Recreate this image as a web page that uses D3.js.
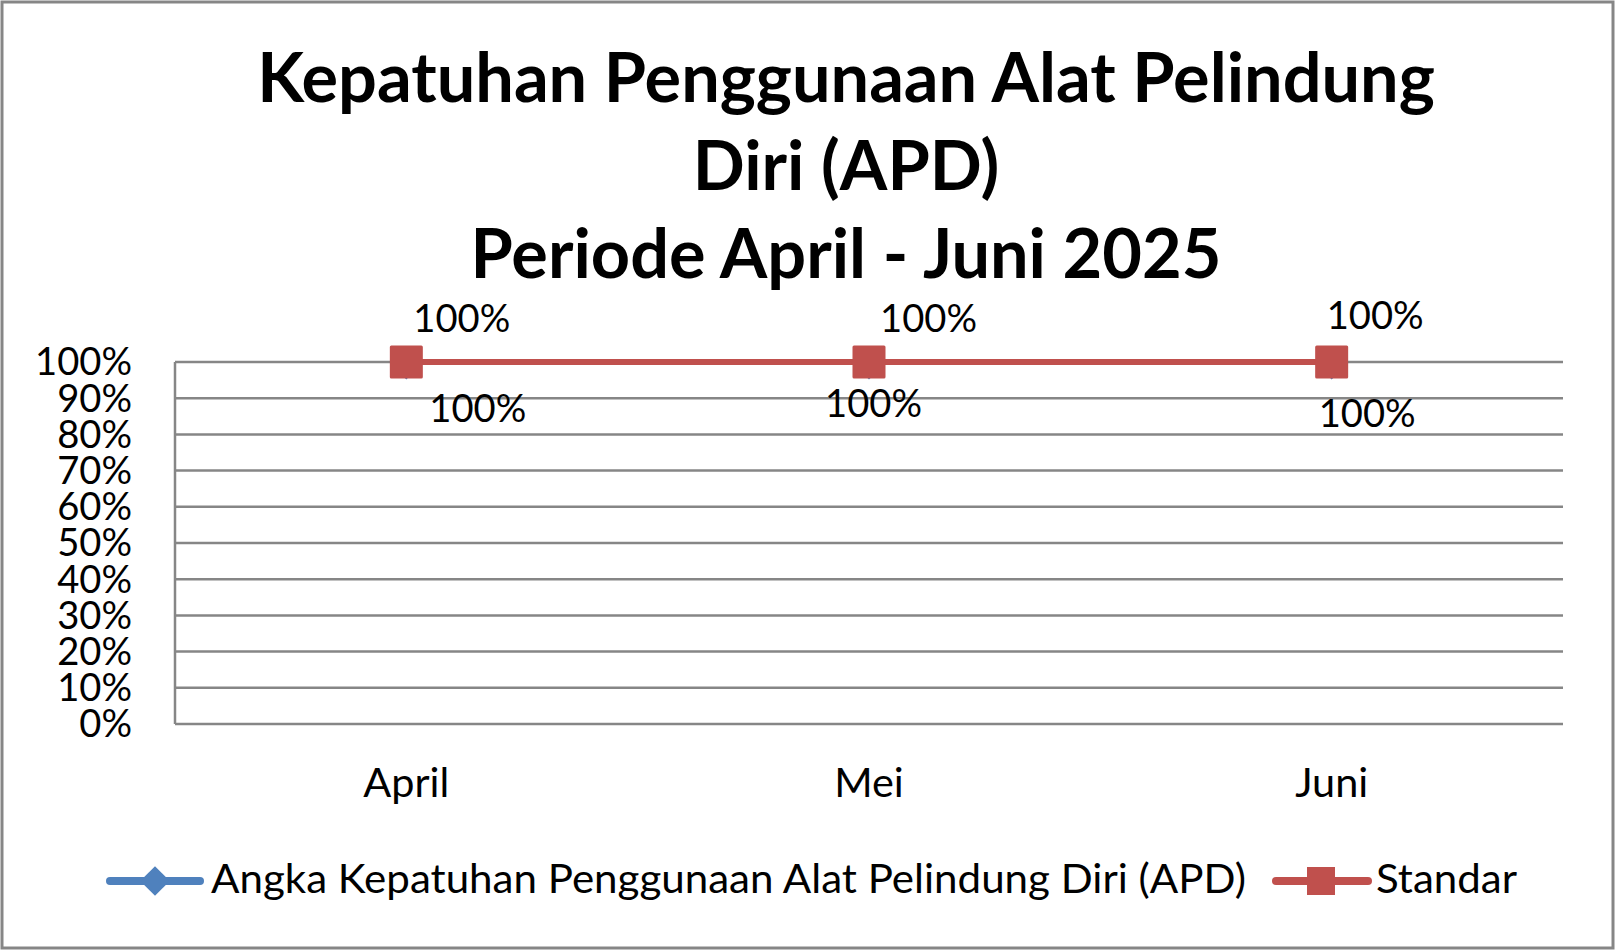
<!DOCTYPE html>
<html>
<head>
<meta charset="utf-8">
<script src="https://cdn.jsdelivr.net/npm/d3@7"></script>
<style>
  body { margin: 0; background: #fff; }
  text { font-family: Lato, "Open Sans", sans-serif; fill: #000; }
</style>
</head>
<body>
<svg width="1615" height="951"></svg>
<script>
// chart data
const months = ["April", "Mei", "Juni"];
const kepatuhan = [100, 100, 100];
const standar = [100, 100, 100];
const yTicks = [0, 10, 20, 30, 40, 50, 60, 70, 80, 90, 100];
const titleLines = ["Kepatuhan Penggunaan Alat Pelindung", "Diri (APD)", "Periode April - Juni 2025"];
const seriesNames = ["Angka Kepatuhan Penggunaan Alat Pelindung Diri (APD)", "Standar"];

// hand-placed label offsets (dx, dy from the point)
const upperOffsets = [[7, -30], [11, -30], [-5, -33]];
const lowerOffsets = [[23, 60], [-44, 55], [-13, 65]];

const svg = d3.select("svg"),
    margin = {top: 362, right: 52, bottom: 227, left: 175},
    width = +svg.attr("width") - margin.left - margin.right,
    height = +svg.attr("height") - margin.top - margin.bottom;

const blue = "#4F81BD", red = "#C0504D", grey = "#868686";

svg.append("rect")
    .attr("x", 2).attr("y", 2)
    .attr("width", 1611).attr("height", 946)
    .attr("fill", "#fff").attr("stroke", grey).attr("stroke-width", 3);

// fit a font size so a sample string gets a given width
function fitSize(str, weight, targetWidth) {
  const t = svg.append("text").attr("font-size", 100).attr("font-weight", weight).text(str);
  const w = t.node().getComputedTextLength();
  t.remove();
  return 100 * targetWidth / w;
}
const bodySize = fitSize("100%", "normal", 97);
const catSize = fitSize("April", "normal", 86);
const titleSize = fitSize(titleLines[0], "bold", 1178);

const title = svg.append("text")
    .attr("text-anchor", "middle")
    .attr("font-weight", "bold")
    .attr("font-size", titleSize);
titleLines.forEach(function(line, i) {
  title.append("tspan").attr("x", 846).attr("y", 102 + i * 88).text(line);
});

const g = svg.append("g").attr("transform", "translate(" + margin.left + "," + margin.top + ")");

const x = d3.scalePoint()
    .domain(months)
    .range([0, width])
    .padding(0.5);

const y = d3.scaleLinear()
    .domain([0, 100])
    .range([height, 0]);

// gridlines
g.append("g")
  .selectAll("line")
  .data(yTicks)
  .enter().append("line")
    .attr("x1", 0).attr("x2", width)
    .attr("y1", function(d) { return y(d); })
    .attr("y2", function(d) { return y(d); })
    .attr("stroke", grey).attr("stroke-width", 2.5);

g.append("line")
    .attr("x1", 0).attr("x2", 0)
    .attr("y1", 0).attr("y2", height)
    .attr("stroke", grey).attr("stroke-width", 2.5);

// y axis labels
g.append("g")
  .selectAll("text")
  .data(yTicks)
  .enter().append("text")
    .attr("x", -43)
    .attr("y", function(d) { return y(d); })
    .attr("dy", "0.35em")
    .attr("text-anchor", "end")
    .attr("font-size", bodySize)
    .text(function(d) { return d + "%"; });

// x axis labels
g.append("g")
  .selectAll("text")
  .data(months)
  .enter().append("text")
    .attr("x", function(d) { return x(d); })
    .attr("y", 797 - margin.top)
    .attr("text-anchor", "middle")
    .attr("font-size", catSize)
    .text(function(d) { return d; });

const line = d3.line()
    .x(function(d, i) { return x(months[i]); })
    .y(function(d) { return y(d); });

// kepatuhan series (under)
g.append("path")
    .datum(kepatuhan)
    .attr("d", line)
    .attr("fill", "none")
    .attr("stroke", blue).attr("stroke-width", 6);
g.append("g")
  .selectAll("path")
  .data(kepatuhan)
  .enter().append("path")
    .attr("d", d3.symbol().type(d3.symbolDiamond2).size(700))
    .attr("transform", function(d, i) { return "translate(" + x(months[i]) + "," + (y(d) + 1) + ")"; })
    .attr("fill", blue);

// standar series
g.append("path")
    .datum(standar)
    .attr("d", line)
    .attr("fill", "none")
    .attr("stroke", red).attr("stroke-width", 6);
g.append("g")
  .selectAll("rect")
  .data(standar)
  .enter().append("rect")
    .attr("x", function(d, i) { return x(months[i]) - 16.5; })
    .attr("y", function(d) { return y(d) - 16.5; })
    .attr("width", 33).attr("height", 33)
    .attr("rx", 1.5)
    .attr("fill", red);

// data labels
g.append("g")
  .selectAll("text")
  .data(standar)
  .enter().append("text")
    .attr("x", function(d, i) { return x(months[i]) + upperOffsets[i][0]; })
    .attr("y", function(d, i) { return y(d) + upperOffsets[i][1]; })
    .attr("font-size", bodySize)
    .text(function(d) { return d + "%"; });
g.append("g")
  .selectAll("text")
  .data(kepatuhan)
  .enter().append("text")
    .attr("x", function(d, i) { return x(months[i]) + lowerOffsets[i][0]; })
    .attr("y", function(d, i) { return y(d) + lowerOffsets[i][1]; })
    .attr("font-size", bodySize)
    .text(function(d) { return d + "%"; });

// legend
const legend = svg.append("g");
legend.append("line")
    .attr("x1", 110).attr("x2", 200).attr("y1", 881).attr("y2", 881)
    .attr("stroke", blue).attr("stroke-width", 8).attr("stroke-linecap", "round");
legend.append("path")
    .attr("d", d3.symbol().type(d3.symbolDiamond2).size(560))
    .attr("transform", "translate(155,881)")
    .attr("fill", blue);
legend.append("text")
    .attr("x", 211).attr("y", 893)
    .attr("font-size", catSize)
    .attr("textLength", 1035)
    .attr("lengthAdjust", "spacingAndGlyphs")
    .text(seriesNames[0]);
legend.append("line")
    .attr("x1", 1276).attr("x2", 1368).attr("y1", 881).attr("y2", 881)
    .attr("stroke", red).attr("stroke-width", 8).attr("stroke-linecap", "round");
legend.append("rect")
    .attr("x", 1307).attr("y", 867).attr("width", 28).attr("height", 28)
    .attr("fill", red);
legend.append("text")
    .attr("x", 1376).attr("y", 893)
    .attr("font-size", catSize)
    .attr("textLength", 141)
    .attr("lengthAdjust", "spacingAndGlyphs")
    .text(seriesNames[1]);
</script>
</body>
</html>
